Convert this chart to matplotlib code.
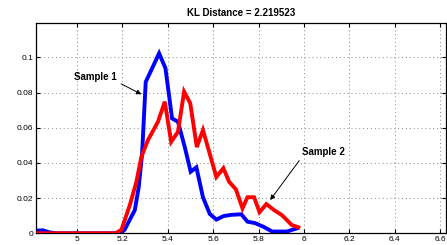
import matplotlib
matplotlib.use('Agg')
import matplotlib.pyplot as plt
from matplotlib.ticker import FormatStrFormatter

plt.rcParams['font.family'] = ['Liberation Sans', 'DejaVu Sans']

# Sample 1 (blue) density estimate
x_blue = [4.82, 4.85, 4.88, 4.91, 5.19, 5.21, 5.255, 5.272, 5.287, 5.303, 5.332,
          5.362, 5.39, 5.419, 5.445, 5.475, 5.501, 5.526, 5.555, 5.585, 5.614,
          5.646, 5.68, 5.724, 5.751, 5.784, 5.82, 5.86, 5.924, 5.968]
y_blue = [0.0015, 0.0017, 0.0005, 0.0, 0.0, 0.002, 0.0132, 0.026, 0.045, 0.086, 0.094,
          0.1023, 0.0938, 0.0653, 0.0634, 0.049, 0.035, 0.0375, 0.0205, 0.011, 0.0078,
          0.0098, 0.0105, 0.0108, 0.0066, 0.0058, 0.0038, 0.001, 0.001, 0.0028]

# Sample 2 (red) density estimate
x_red = [4.82, 5.17, 5.196, 5.233, 5.262, 5.284, 5.313, 5.357, 5.387, 5.415, 5.445,
         5.472, 5.499, 5.528, 5.555, 5.614, 5.645, 5.67, 5.70, 5.729, 5.751, 5.78,
         5.804, 5.834, 5.868, 5.902, 5.924, 5.946, 5.975]
y_red = [0.0, 0.0, 0.002, 0.016, 0.0293, 0.0435, 0.053, 0.0634, 0.0748, 0.052, 0.0577,
         0.0805, 0.0739, 0.049, 0.0587, 0.032, 0.037, 0.0293, 0.025, 0.0142, 0.0205, 0.0205,
         0.012, 0.0166, 0.0132, 0.0104, 0.0076, 0.0047, 0.0034]

x_ticks = [5, 5.2, 5.4, 5.6, 5.8, 6, 6.2, 6.4, 6.6]
y_ticks = [0, 0.02, 0.04, 0.06, 0.08, 0.1]
kl_dist = 2.219523

fig = plt.figure(figsize=(4.47, 2.45), dpi=100)
ax = fig.add_axes([36 / 447, 11.7 / 245, 410 / 447, 210.6 / 245])

ax.plot(x_red, y_red, color='#ff0000', lw=2.8, solid_joinstyle='miter', zorder=3)
ax.plot(x_blue, y_blue, color='#0000ff', lw=2.8, solid_joinstyle='miter', zorder=2)

ax.set_xlim(4.82, 6.625)
ax.set_ylim(0, 0.1197)
ax.set_xticks(x_ticks)
ax.set_yticks(y_ticks)
ax.xaxis.set_major_formatter(FormatStrFormatter('%g'))
ax.yaxis.set_major_formatter(FormatStrFormatter('%g'))
ax.tick_params(direction='in', top=True, right=True, labelsize=6, length=3, width=0.8, pad=2)
ax.grid(True, linestyle=(0, (1, 3)), color='#888888', lw=0.7)
for s in ax.spines.values():
    s.set_linewidth(0.9)

ax.set_title(f'KL Distance = {kl_dist:.6f}', fontsize=7, fontweight='bold', pad=5)

ax.annotate('Sample 1', xy=(5.284, 0.079), xytext=(5.083, 0.089), fontsize=7,
            fontweight='bold', ha='center', va='center',
            arrowprops=dict(arrowstyle='-|>', color='k', lw=0.7, mutation_scale=7,
                            shrinkA=1, shrinkB=0, relpos=(1, 0)))
ax.annotate('Sample 2', xy=(5.851, 0.0189), xytext=(6.086, 0.0464), fontsize=7,
            fontweight='bold', ha='center', va='center',
            arrowprops=dict(arrowstyle='-|>', color='k', lw=0.7, mutation_scale=7,
                            shrinkA=1, shrinkB=0, relpos=(0, 0)))

plt.savefig('out.png', dpi=100)
